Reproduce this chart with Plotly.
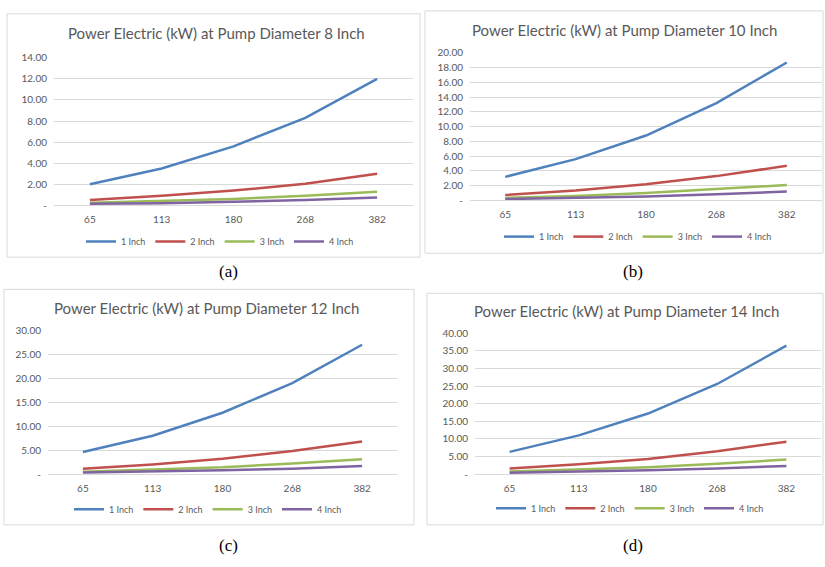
import plotly.graph_objects as go

W, H = 825, 567

# ---------------- data ----------------
flow_labels = ["65", "113", "180", "268", "382"]
series_names = ["1 Inch", "2 Inch", "3 Inch", "4 Inch"]

d8_1in = [2.00, 3.50, 5.60, 8.30, 12.00]
d8_2in = [0.50, 0.90, 1.40, 2.05, 3.00]
d8_3in = [0.25, 0.40, 0.60, 0.90, 1.30]
d8_4in = [0.15, 0.20, 0.35, 0.50, 0.75]

d10_1in = [3.20, 5.60, 8.80, 13.20, 18.70]
d10_2in = [0.75, 1.35, 2.20, 3.30, 4.70]
d10_3in = [0.35, 0.60, 1.00, 1.50, 2.10]
d10_4in = [0.20, 0.35, 0.55, 0.85, 1.20]

d12_1in = [4.60, 8.00, 12.80, 19.00, 27.00]
d12_2in = [1.10, 2.00, 3.20, 4.80, 6.80]
d12_3in = [0.50, 0.90, 1.40, 2.20, 3.10]
d12_4in = [0.30, 0.50, 0.80, 1.10, 1.70]

d14_1in = [6.30, 11.00, 17.20, 25.60, 36.50]
d14_2in = [1.60, 2.80, 4.30, 6.50, 9.20]
d14_3in = [0.70, 1.20, 1.90, 2.90, 4.10]
d14_4in = [0.40, 0.70, 1.10, 1.60, 2.30]

titles = [
    "Power Electric (kW) at Pump Diameter 8 Inch",
    "Power Electric (kW) at Pump Diameter 10 Inch",
    "Power Electric (kW) at Pump Diameter 12 Inch",
    "Power Electric (kW) at Pump Diameter 14 Inch",
]
captions = ["(a)", "(b)", "(c)", "(d)"]
y_max = [14, 20, 30, 40]
y_step = [2, 2, 5, 5]

panel_series = [
    [d8_1in, d8_2in, d8_3in, d8_4in],
    [d10_1in, d10_2in, d10_3in, d10_4in],
    [d12_1in, d12_2in, d12_3in, d12_4in],
    [d14_1in, d14_2in, d14_3in, d14_4in],
]

colors = ["#4F81BD", "#C0504D", "#9BBB59", "#8064A2"]

# ---------------- layout geometry (pixels) ----------------
plot_px = [
    (54, 413, 52, 203),
    (470, 822, 47, 198),
    (48, 397, 331, 478),
    (475, 821, 334, 478),
]
box_px = [
    (7, 7, 420, 256),
    (425, 4, 823, 252),
    (4, 289, 414, 530),
    (427, 293, 823, 530),
]
title_px = [(216, 27), (624, 24), (206, 308), (626, 311)]
legend_px = [(220, 240), (638, 235), (208, 514), (630, 513)]
caption_px = [(228, 271), (633, 271), (228, 551), (633, 551)]

FONT = "Lato"
TICK_COLOR = "#595959"
GRID = "#D9D9D9"


def px_x(v):
    return v / W


def px_y(v):
    return 1 - v / H


fig = go.Figure()
layout = dict(
    width=W, height=H,
    margin=dict(l=0, r=0, t=0, b=0),
    paper_bgcolor="white", plot_bgcolor="white",
    font=dict(family=FONT, color=TICK_COLOR),
    shapes=[], annotations=[],
)

for i in range(4):
    ax = "" if i == 0 else str(i + 1)
    xref = "x" + ax
    yref = "y" + ax
    leg = "legend" if i == 0 else f"legend{i + 1}"
    for s, name in enumerate(series_names):
        fig.add_trace(go.Scatter(
            x=flow_labels, y=panel_series[i][s], name=name,
            mode="lines", line=dict(color=colors[s], width=2.5),
            xaxis=xref, yaxis=yref, legend=leg,
        ))
    x0, x1, yt, yb = plot_px[i]
    ticks = list(range(0, y_max[i] + 1, y_step[i]))
    ticktext = ["-" if t == 0 else f"{t:.2f}" for t in ticks]
    layout["xaxis" + ax] = dict(
        domain=[px_x(x0), px_x(x1)], anchor=yref, type="category",
        range=[-0.5, 4.5], showgrid=False, zeroline=False,
        showline=True, linecolor=GRID, linewidth=1, ticks="",
        ticklabelstandoff=5,
        tickfont=dict(size=10, color=TICK_COLOR, family=FONT),
    )
    layout["yaxis" + ax] = dict(
        domain=[px_y(yb), px_y(yt)], anchor=xref,
        range=[0, y_max[i]], tickvals=ticks, ticktext=ticktext,
        showgrid=True, gridcolor=GRID, gridwidth=1, zeroline=False,
        showline=False, ticks="", ticklabelstandoff=6,
        tickfont=dict(size=10, color=TICK_COLOR, family=FONT),
    )
    lx, ly = legend_px[i]
    layout[leg] = dict(
        orientation="h", x=px_x(lx), y=px_y(ly),
        xanchor="center", yanchor="middle",
        font=dict(size=9, color=TICK_COLOR, family=FONT),
        bgcolor="rgba(0,0,0,0)", itemwidth=30,
        tracegroupgap=0,
    )
    bx0, by0, bx1, by1 = box_px[i]
    layout["shapes"].append(dict(
        type="rect", xref="paper", yref="paper",
        x0=px_x(bx0), x1=px_x(bx1), y0=px_y(by1), y1=px_y(by0),
        line=dict(color=GRID, width=1), fillcolor="rgba(0,0,0,0)",
        layer="below",
    ))
    tx, ty = title_px[i]
    layout["annotations"].append(dict(
        text=titles[i], xref="paper", yref="paper",
        x=px_x(tx), y=px_y(ty), xanchor="center", yanchor="middle",
        showarrow=False, font=dict(size=15, color=TICK_COLOR, family=FONT),
    ))
    cx, cy = caption_px[i]
    layout["annotations"].append(dict(
        text=captions[i], xref="paper", yref="paper",
        x=px_x(cx), y=px_y(cy), xanchor="center", yanchor="middle",
        showarrow=False,
        font=dict(size=17, color="black", family="Liberation Serif"),
    ))

fig.update_layout(**layout)
fig.write_html(
    "out.html",
    config={"displayModeBar": False},
    post_script="document.body.style.margin='0';document.body.style.overflow='hidden';",
)
